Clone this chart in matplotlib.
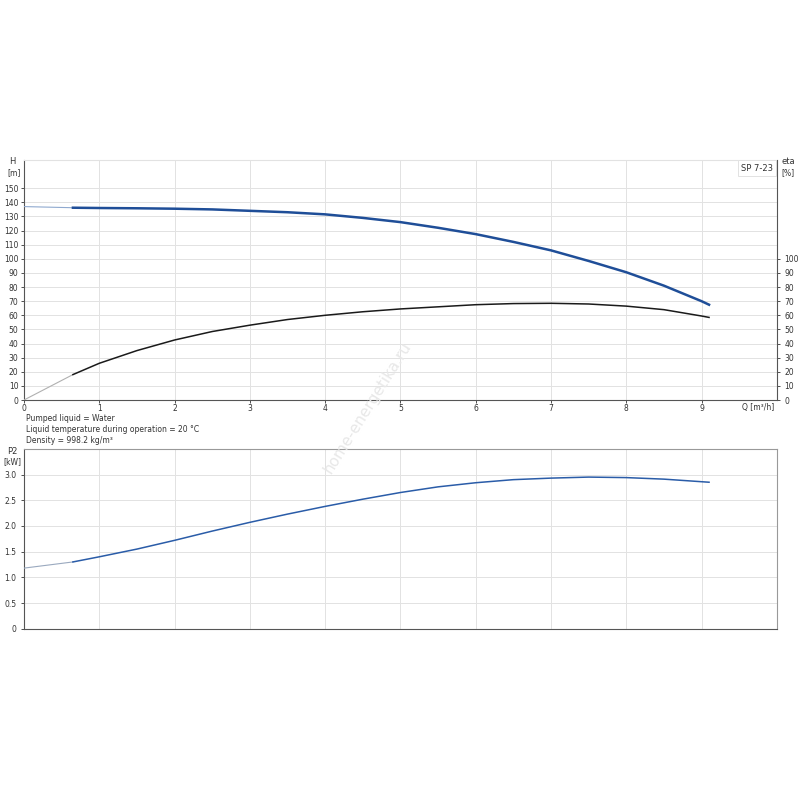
import numpy as np
import matplotlib.pyplot as plt

# Q [m3/h] sample points
q = [0, 0.65, 1, 1.5, 2, 2.5, 3, 3.5, 4, 4.5, 5, 5.5, 6, 6.5, 7, 7.5, 8, 8.5, 9, 9.1]
head = [137, 136.2, 136, 135.8, 135.5, 135, 134, 133, 131.5, 129, 126, 122,
        117.5, 112, 106, 98.5, 90.5, 81, 70, 67.5]
eta = [0, 18, 26, 35, 42.5, 48.5, 53, 57, 60, 62.5, 64.5, 66, 67.5, 68.3,
       68.5, 68, 66.5, 64, 59.5, 58.5]
p2 = [1.18, 1.3, 1.4, 1.55, 1.72, 1.9, 2.07, 2.23, 2.38, 2.52, 2.65, 2.76,
      2.84, 2.9, 2.93, 2.95, 2.94, 2.91, 2.86, 2.85]
q_min = 0.65  # start of the operating range

q_ticks = list(range(0, 10))
h_ticks = list(range(0, 151, 10))
eta_ticks = list(range(0, 101, 10))
p2_ticks = [0, 0.5, 1.0, 1.5, 2.0, 2.5, 3.0]

plt.rcParams['font.family'] = 'DejaVu Sans'
fs = 5.5
tcol = '#333333'
gcol = '#e2e2e2'

fig = plt.figure(figsize=(8, 8), dpi=100)
ax1 = fig.add_axes([0.03, 0.5, 0.941, 0.3])
ax2 = fig.add_axes([0.03, 0.214, 0.941, 0.225])

q = np.array(q)
i0 = int(np.argmin(np.abs(q - q_min)))


def split_plot(ax, y, thin_col, thick_col, lw):
    y = np.array(y)
    ax.plot(q[:i0 + 1], y[:i0 + 1], color=thin_col, lw=0.8, zorder=3)
    ax.plot(q[i0:], y[i0:], color=thick_col, lw=lw, zorder=4)


# ---- top: H and eta
ax1.set_xlim(0, 10)
ax1.set_ylim(0, 170)
split_plot(ax1, head, '#8fa9cf', '#1f4e98', 1.8)
split_plot(ax1, eta, '#b0b0b0', '#1a1a1a', 1.1)
ax1.set_xticks(q_ticks)
ax1.set_yticks(h_ticks)
ax1.grid(True, color=gcol, lw=0.7)
ax1.tick_params(labelsize=fs, colors=tcol, length=2, width=0.6, pad=2)
ax1.tick_params(axis='x', pad=1)
ax1.spines['top'].set_color(gcol)
for s in ['left', 'bottom']:
    ax1.spines[s].set_color('#555555')
ax1.spines['right'].set_visible(False)

axr = ax1.twinx()
axr.set_ylim(0, 170)
axr.set_yticks(eta_ticks)
axr.tick_params(labelsize=fs, colors=tcol, length=2, width=0.6)
for s in ['top', 'left', 'bottom']:
    axr.spines[s].set_visible(False)
axr.spines['right'].set_color('#555555')

fig.text(0.016, 0.795, 'H', fontsize=fs + 0.5, color=tcol, ha='center')
fig.text(0.018, 0.781, '[m]', fontsize=fs, color=tcol, ha='center')
fig.text(0.986, 0.795, 'eta', fontsize=fs + 0.5, color=tcol, ha='center')
fig.text(0.985, 0.781, '[%]', fontsize=fs, color=tcol, ha='center')
ax1.text(0.995, 0.985, 'SP 7-23', transform=ax1.transAxes, fontsize=fs + 0.5,
         color=tcol, ha='right', va='top',
         bbox=dict(boxstyle='square,pad=0.4', fc='white', ec=gcol, lw=0.7))
fig.text(0.968, 0.491, 'Q [m³/h]', fontsize=fs, color=tcol, ha='right',
         va='center')

fig.text(0.033, 0.4765, 'Pumped liquid = Water', fontsize=fs, color=tcol,
         va='center')
fig.text(0.033, 0.463, 'Liquid temperature during operation = 20 °C',
         fontsize=fs, color=tcol, va='center')
fig.text(0.033, 0.4495, 'Density = 998.2 kg/m³', fontsize=fs, color=tcol,
         va='center')

# ---- bottom: P2
ax2.set_xlim(0, 10)
ax2.set_ylim(0, 3.5)
split_plot(ax2, p2, '#9aa9bf', '#2a5ca8', 1.1)
ax2.set_xticks(q_ticks)
ax2.set_xticklabels([])
ax2.set_yticks(p2_ticks)
ax2.set_yticklabels(['0', '0.5', '1.0', '1.5', '2.0', '2.5', '3.0'])
ax2.grid(True, color=gcol, lw=0.7)
ax2.tick_params(labelsize=fs, colors=tcol, length=2, width=0.6)
ax2.tick_params(axis='x', length=0)
for s in ['top', 'right']:
    ax2.spines[s].set_color('#999999')
for s in ['left', 'bottom']:
    ax2.spines[s].set_color('#555555')
fig.text(0.016, 0.433, 'P2', fontsize=fs + 0.5, color=tcol, ha='center')
fig.text(0.016, 0.42, '[kW]', fontsize=fs, color=tcol, ha='center')

# watermark
fig.text(0.46, 0.49, 'home-energetika.ru', fontsize=11, color='#e8e8e8',
         rotation=58, ha='center', va='center')

fig.savefig('out.png', dpi=100)
